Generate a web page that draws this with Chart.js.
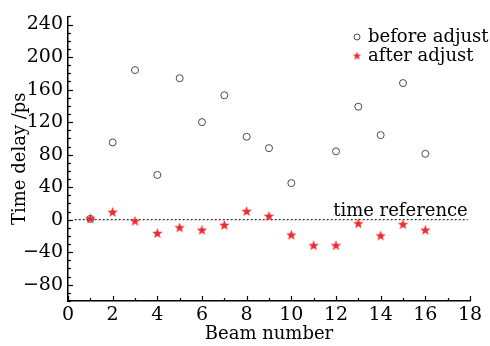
<!DOCTYPE html>
<html>
<head>
<meta charset="utf-8">
<script src="https://cdn.jsdelivr.net/npm/chart.js@4.4.1/dist/chart.umd.min.js"></script>
<style>
  html, body { margin: 0; padding: 0; background: #fff; }
  #wrap { width: 490px; height: 346px; }
</style>
</head>
<body>
<div id="wrap"><canvas id="chart" width="490" height="346"></canvas></div>
<script>
// beam numbers and measured delays (ps)
const beams = [1, 2, 3, 4, 5, 6, 7, 8, 9, 10, 11, 12, 13, 14, 15, 16];
const beforeAdjust = [1, 95, 184, 55, 174, 120, 153, 102, 88, 45, null, 84, 139, 104, 168, 81];
const afterAdjust = [1, 9, -2, -17, -10, -13, -7, 10, 4, -19, -32, -32, -5, -20, -6, -13];
const refX = [0.3, 17.9];
const refY = [0, 0];
const xTicks = [0, 2, 4, 6, 8, 10, 12, 14, 16, 18];
const yTicks = [-80, -40, 0, 40, 80, 120, 160, 200, 240];
const legendLabels = ['before adjust', 'after adjust'];
const refLabel = 'time reference';

const FONT = '"DejaVu Serif", "Liberation Serif", serif';
const RED = '#ec2b2f';
const GREY = '#4a4a4a';

function makeStar(r, color) {
  const c = document.createElement('canvas');
  const s = Math.ceil(r * 2 + 2);
  c.width = s; c.height = s;
  const g = c.getContext('2d');
  g.fillStyle = color;
  g.beginPath();
  for (let i = 0; i < 10; i++) {
    const rad = i % 2 === 0 ? r : r * 0.42;
    const a = -Math.PI / 2 + i * Math.PI / 5;
    const px = s / 2 + rad * Math.cos(a);
    const py = s / 2 + rad * Math.sin(a);
    if (i === 0) g.moveTo(px, py); else g.lineTo(px, py);
  }
  g.closePath();
  g.fill();
  return c;
}
const starImg = makeStar(5.5, RED);
const starSmall = makeStar(4.5, RED);

const decorations = {
  id: 'decorations',
  afterDatasetsDraw(chart) {
    const { ctx, chartArea } = chart;
    const xs = chart.scales.x, ys = chart.scales.y;
    ctx.save();
    ctx.strokeStyle = '#000';
    ctx.lineWidth = 1.2;
    // inward ticks on y axis
    for (let v = -100; v <= 250; v += 10) {
      const y = Math.round(ys.getPixelForValue(v)) + 0.5;
      const len = yTicks.includes(v) ? 5 : 3;
      ctx.beginPath();
      ctx.moveTo(chartArea.left, y);
      ctx.lineTo(chartArea.left + len, y);
      ctx.stroke();
    }
    // inward ticks on x axis
    for (let v = 0; v <= 18; v += 1) {
      const x = Math.round(xs.getPixelForValue(v)) + 0.5;
      const len = xTicks.includes(v) ? 5 : 3;
      ctx.beginPath();
      ctx.moveTo(x, chartArea.bottom);
      ctx.lineTo(x, chartArea.bottom - len);
      ctx.stroke();
    }
    // reference label
    ctx.fillStyle = '#000';
    ctx.font = '18px ' + FONT;
    ctx.textAlign = 'right';
    ctx.textBaseline = 'alphabetic';
    ctx.fillText(refLabel, xs.getPixelForValue(refX[1]), ys.getPixelForValue(0) - 4);
    // legend
    const lx = 357, ly0 = 37, step = 19;
    ctx.textAlign = 'left';
    ctx.textBaseline = 'middle';
    ctx.beginPath();
    ctx.lineWidth = 1;
    ctx.strokeStyle = GREY;
    ctx.arc(lx, ly0, 3, 0, Math.PI * 2);
    ctx.stroke();
    ctx.fillText(legendLabels[0], lx + 11, ly0);
    ctx.drawImage(starSmall, lx - starSmall.width / 2, ly0 + step - starSmall.height / 2);
    ctx.fillText(legendLabels[1], lx + 11, ly0 + step);
    ctx.restore();
  }
};

new Chart(document.getElementById('chart'), {
  type: 'scatter',
  data: {
    datasets: [
      {
        label: 'reference',
        type: 'line',
        data: refX.map((x, i) => ({ x: x, y: refY[i] })),
        borderColor: '#000',
        borderWidth: 1,
        borderDash: [2, 2],
        pointRadius: 0,
        order: 3
      },
      {
        label: legendLabels[0],
        data: beams.map((b, i) => ({ x: b, y: beforeAdjust[i] })),
        pointStyle: 'circle',
        pointRadius: 3.5,
        borderColor: GREY,
        borderWidth: 1,
        backgroundColor: 'rgba(0,0,0,0)',
        order: 2
      },
      {
        label: legendLabels[1],
        data: beams.map((b, i) => ({ x: b, y: afterAdjust[i] })),
        pointStyle: starImg,
        pointRadius: 6,
        order: 1
      }
    ]
  },
  options: {
    responsive: false,
    animation: false,
    layout: { padding: { top: 7, right: 20, left: 0, bottom: 0 } },
    plugins: {
      legend: { display: false },
      tooltip: { enabled: false }
    },
    scales: {
      x: {
        type: 'linear',
        min: 0,
        max: 18,
        afterBuildTicks: s => { s.ticks = xTicks.map(v => ({ value: v })); },
        afterFit: s => { s.height = 45; },
        grid: { display: false, drawTicks: false },
        border: { display: true, color: '#000', width: 1.5 },
        ticks: { color: '#000', font: { family: FONT, size: 19 }, padding: 3, maxRotation: 0 },
        title: { display: true, text: 'Beam number', color: '#000', font: { family: FONT, size: 18 }, padding: 1 }
      },
      y: {
        min: -100,
        max: 250,
        afterBuildTicks: s => { s.ticks = yTicks.map(v => ({ value: v })); },
        afterFit: s => { s.width = 68; },
        grid: { display: false, drawTicks: false },
        border: { display: true, color: '#000', width: 1.5 },
        ticks: { color: '#000', font: { family: FONT, size: 19 }, padding: 5,
          callback: v => (v < 0 ? '\u2212' + Math.abs(v) : String(v)) },
        title: { display: true, text: 'Time delay /ps', color: '#000', font: { family: FONT, size: 18 }, padding: 10 }
      }
    }
  },
  plugins: [decorations]
});
</script>
</body>
</html>
